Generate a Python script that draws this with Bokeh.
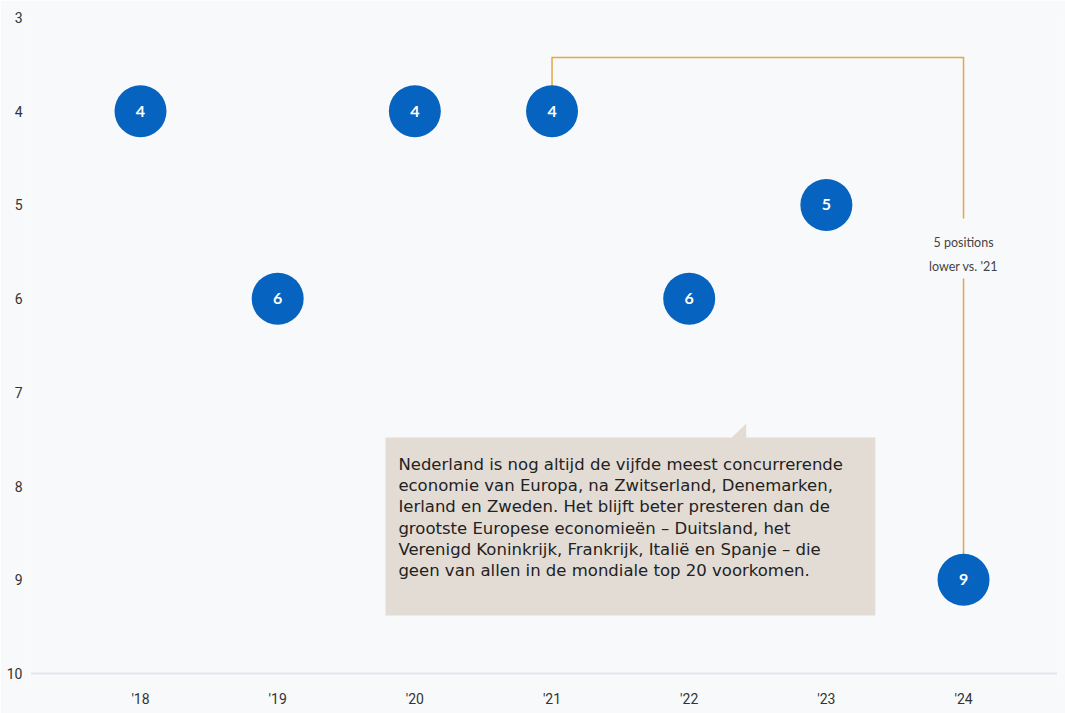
from bokeh.plotting import figure
from bokeh.models import Range1d, FixedTicker, ColumnDataSource
from bokeh.core.properties import value
from bokeh.embed import file_html
from bokeh.resources import INLINE

# ---- data ----
years = [2018, 2019, 2020, 2021, 2022, 2023, 2024]
year_labels = ["'18", "'19", "'20", "'21", "'22", "'23", "'24"]
ranks = [4, 6, 4, 4, 6, 5, 9]
rank_ticks = [3, 4, 5, 6, 7, 8, 9, 10]
bracket_label = "5 positions\nlower vs. '21"
note_text = ("Nederland is nog altijd de vijfde meest concurrerende\n"
             "economie van Europa, na Zwitserland, Denemarken,\n"
             "Ierland en Zweden. Het blijft beter presteren dan de\n"
             "grootste Europese economieën – Duitsland, het\n"
             "Verenigd Koninkrijk, Frankrijk, Italië en Spanje – die\n"
             "geen van allen in de mondiale top 20 voorkomen.")

BG = "#F8F9FA"
BLUE = "#0663BF"
ORANGE = "#E8A640"

p = figure(width=1065, height=713, output_backend="svg", toolbar_location=None,
           x_range=Range1d(2017.198, 2024.685), y_range=Range1d(10.139, 2.957),
           min_border_left=30, min_border_right=8, min_border_top=13, min_border_bottom=27)
p.background_fill_color = BG
p.border_fill_color = BG
p.outline_line_color = None

# axes
p.xaxis.ticker = FixedTicker(ticks=years)
p.xaxis.major_label_overrides = {y: l for y, l in zip(years, year_labels)}
p.yaxis.ticker = FixedTicker(ticks=rank_ticks)
for ax in (p.xaxis, p.yaxis):
    ax.axis_line_color = None
    ax.major_tick_line_color = None
    ax.minor_tick_line_color = None
    ax.major_tick_out = 0
    ax.major_tick_in = 0
    ax.major_label_text_font = "Roboto"
    ax.major_label_text_font_size = "14px"
    ax.major_label_text_color = "#333333"
p.xaxis.major_label_standoff = 4
p.yaxis.major_label_standoff = 8

p.xgrid.grid_line_color = None
p.ygrid.ticker = FixedTicker(ticks=[rank_ticks[-1]])
p.ygrid.grid_line_color = "#E3E6E9"
p.ygrid.grid_line_width = 2

# bracket between '21 and '24
x21, r21 = years[3], ranks[3]
x24, r24 = years[6], ranks[6]
top = r21 - 0.573
p.line([x21, x21, x24, x24], [r21 - 0.27, top, top, 5.145],
       line_color=ORANGE, line_width=1.5, line_join="round")
p.line([x24, x24], [5.785, r24 - 0.27], line_color=ORANGE, line_width=1.5)
p.text([x24], [5.53], text=[bracket_label], text_align="center", text_baseline="middle",
       text_font=value("Lato"), text_font_size="12.5px", text_color="#444444",
       text_line_height=1.6)

# annotation box with pointer
bx0, bx1, by0, by1 = 2019.786, 2023.357, 7.482, 9.382
p.quad(left=[bx0], right=[bx1], top=[by0], bottom=[by1],
       fill_color="#E2DCD5", line_color=None)
p.patch([2022.307, 2022.416, 2022.416], [by0 + 0.005, 7.333, by0 + 0.005],
        fill_color="#E2DCD5", line_color=None)
p.text([2019.880], [7.664], text=[note_text], text_align="left", text_baseline="top",
       text_font=value("DejaVu Sans"), text_font_size="16.5px", text_color="#222222",
       text_line_height=1.125)

# dots
src = ColumnDataSource(dict(x=years, y=ranks, t=[str(r) for r in ranks]))
p.scatter("x", "y", source=src, size=52, fill_color=BLUE, line_color=None)
p.text("x", "y", text="t", source=src, text_align="center", text_baseline="middle",
       text_font=value("Lato"), text_font_style="bold", text_font_size="16px",
       text_color="white")

open("out.html", "w").write(file_html(p, INLINE))
